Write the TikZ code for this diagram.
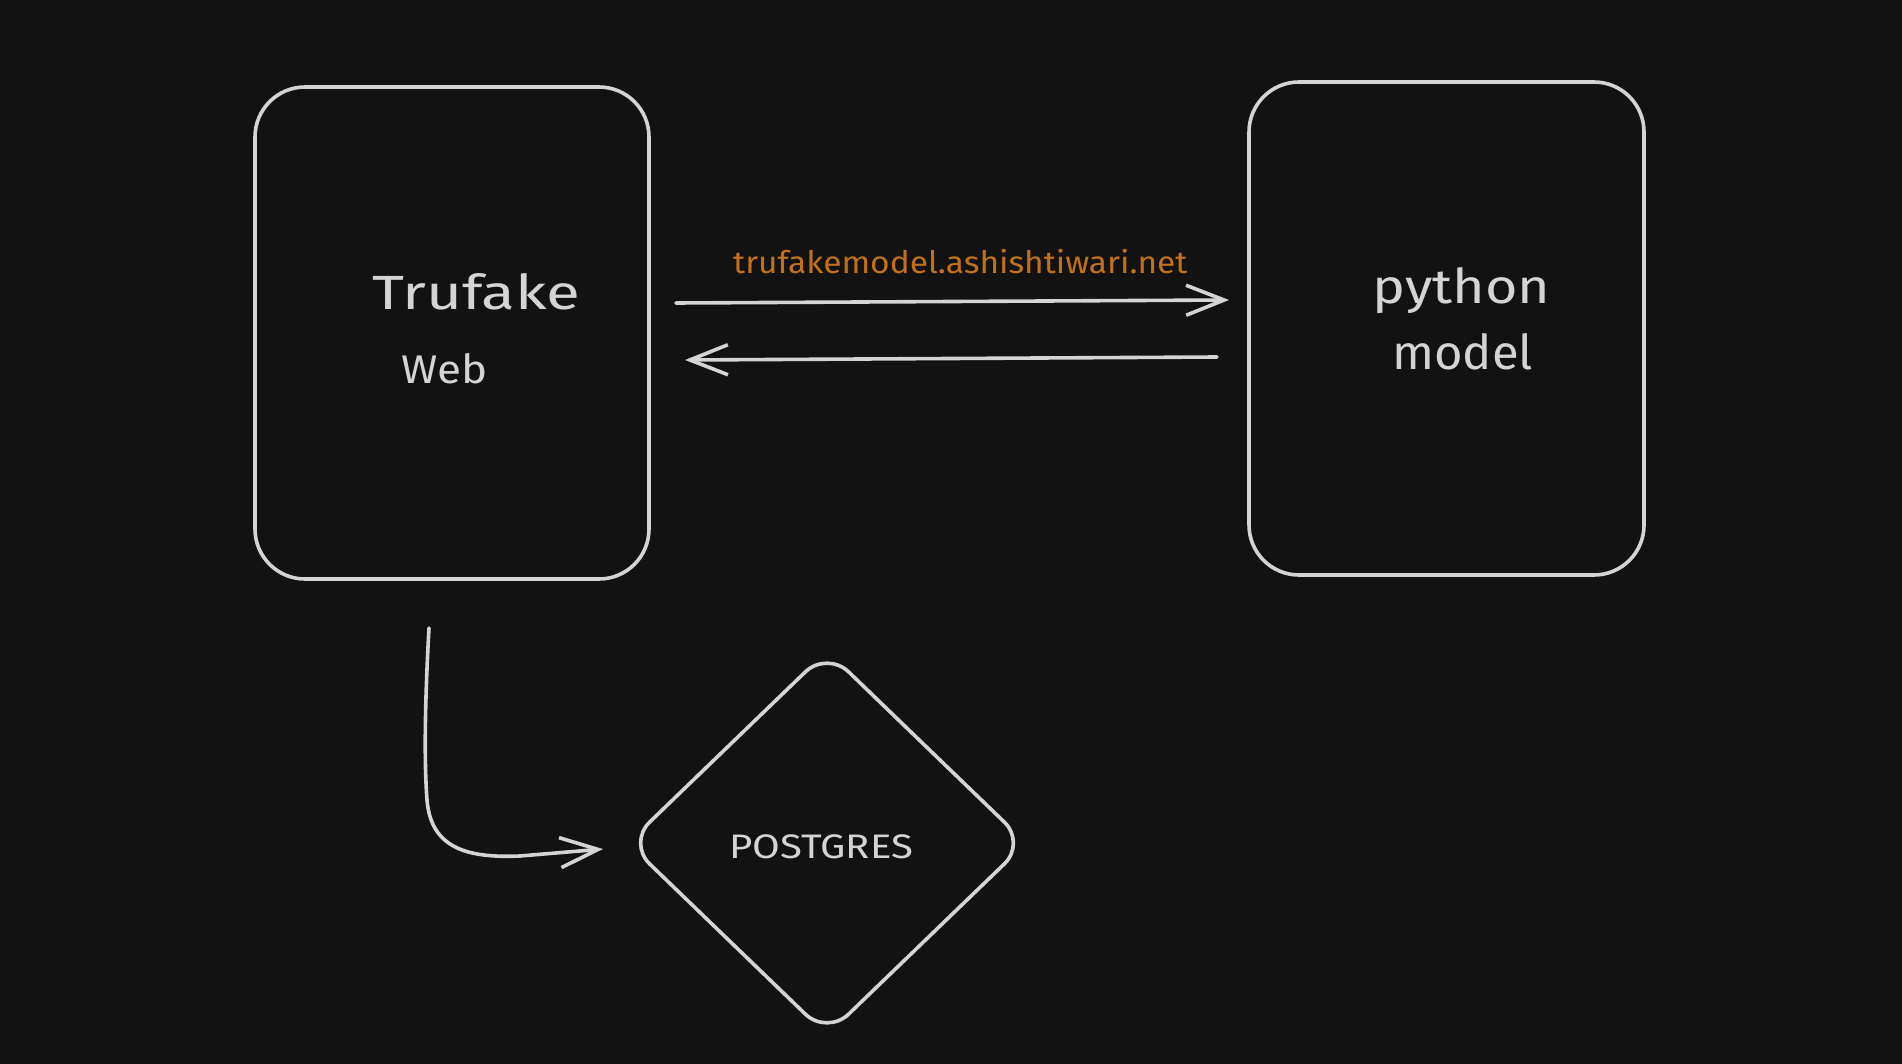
\documentclass[tikz,border=0pt]{standalone}
\usepackage{fontspec}
\setmainfont{Fira Sans}
\usepackage{graphicx}
\usetikzlibrary{arrows.meta,shapes.geometric}
\definecolor{bg}{HTML}{121212}
\definecolor{ink}{HTML}{D4D4D4}
\definecolor{url}{HTML}{C2711A}
\tikzset{
  sketch/.style={draw=ink, line width=3.6pt, line cap=round, line join=round},
  boxnode/.style={sketch, rectangle, rounded corners=50pt, inner sep=0pt},
  lbl/.style={text=ink, inner sep=0pt, anchor=base west},
  conn/.style={draw=ink, line width=3.6pt, line cap=round, -{Straight Barb[length=38pt,width=30pt,line width=3.6pt]}},
}
\begin{document}
\begin{tikzpicture}[x=1pt,y=-1pt]
\fill[bg] (0,0) rectangle (1902,1064);
\useasboundingbox (0,0) rectangle (1902,1064);

\node[boxnode, minimum width=394pt, minimum height=492pt] (web) at (452,333) {};
\node[boxnode, minimum width=395pt, minimum height=493pt] (py) at (1446.5,328.5) {};
\node[sketch, diamond, minimum width=398pt, minimum height=384pt, inner sep=0pt, outer sep=0pt, rounded corners=30pt] (pg) at (827,843) {};

\node[lbl, font=\fontsize{48}{48}\selectfont] (t1) at (372,310) {\scalebox{1.29}[1]{Trufake}};
\node[lbl, font=\fontsize{40}{40}\selectfont] (t2) at (401,383) {\scalebox{1.1}[1]{Web}};
\node[lbl, font=\fontsize{48}{48}\selectfont] (t3) at (1372,304) {\scalebox{1.16}[1]{python}};
\node[lbl, font=\fontsize{48}{48}\selectfont] (t4) at (1392,369) {\scalebox{1.02}[1]{model}};
\node[lbl, font=\fontsize{34}{34}\selectfont] (t5) at (729,858) {\scalebox{1.18}[1]{POSTGRES}};
\node[lbl, text=url, font=\fontsize{31}{31}\selectfont] (t6) at (733,274) {\scalebox{1.08}[1]{trufakemodel.ashishtiwari.net}};

\coordinate (a1s) at (676,303);
\coordinate (a1e) at (1229,300);
\coordinate (a2s) at (1217,357);
\coordinate (a2e) at (685,360);
\coordinate (a3s) at (429,628);
\coordinate (a3e) at (603,849);

\draw[conn] (a1s) -- (a1e);
\draw[conn] (a2s) -- (a2e);
\draw[conn] (a3s) .. controls (425,700) and (424,760) .. (427,800)
  .. controls (431,850) and (470,858) .. (520,856) -- (a3e);
\end{tikzpicture}
\end{document}
